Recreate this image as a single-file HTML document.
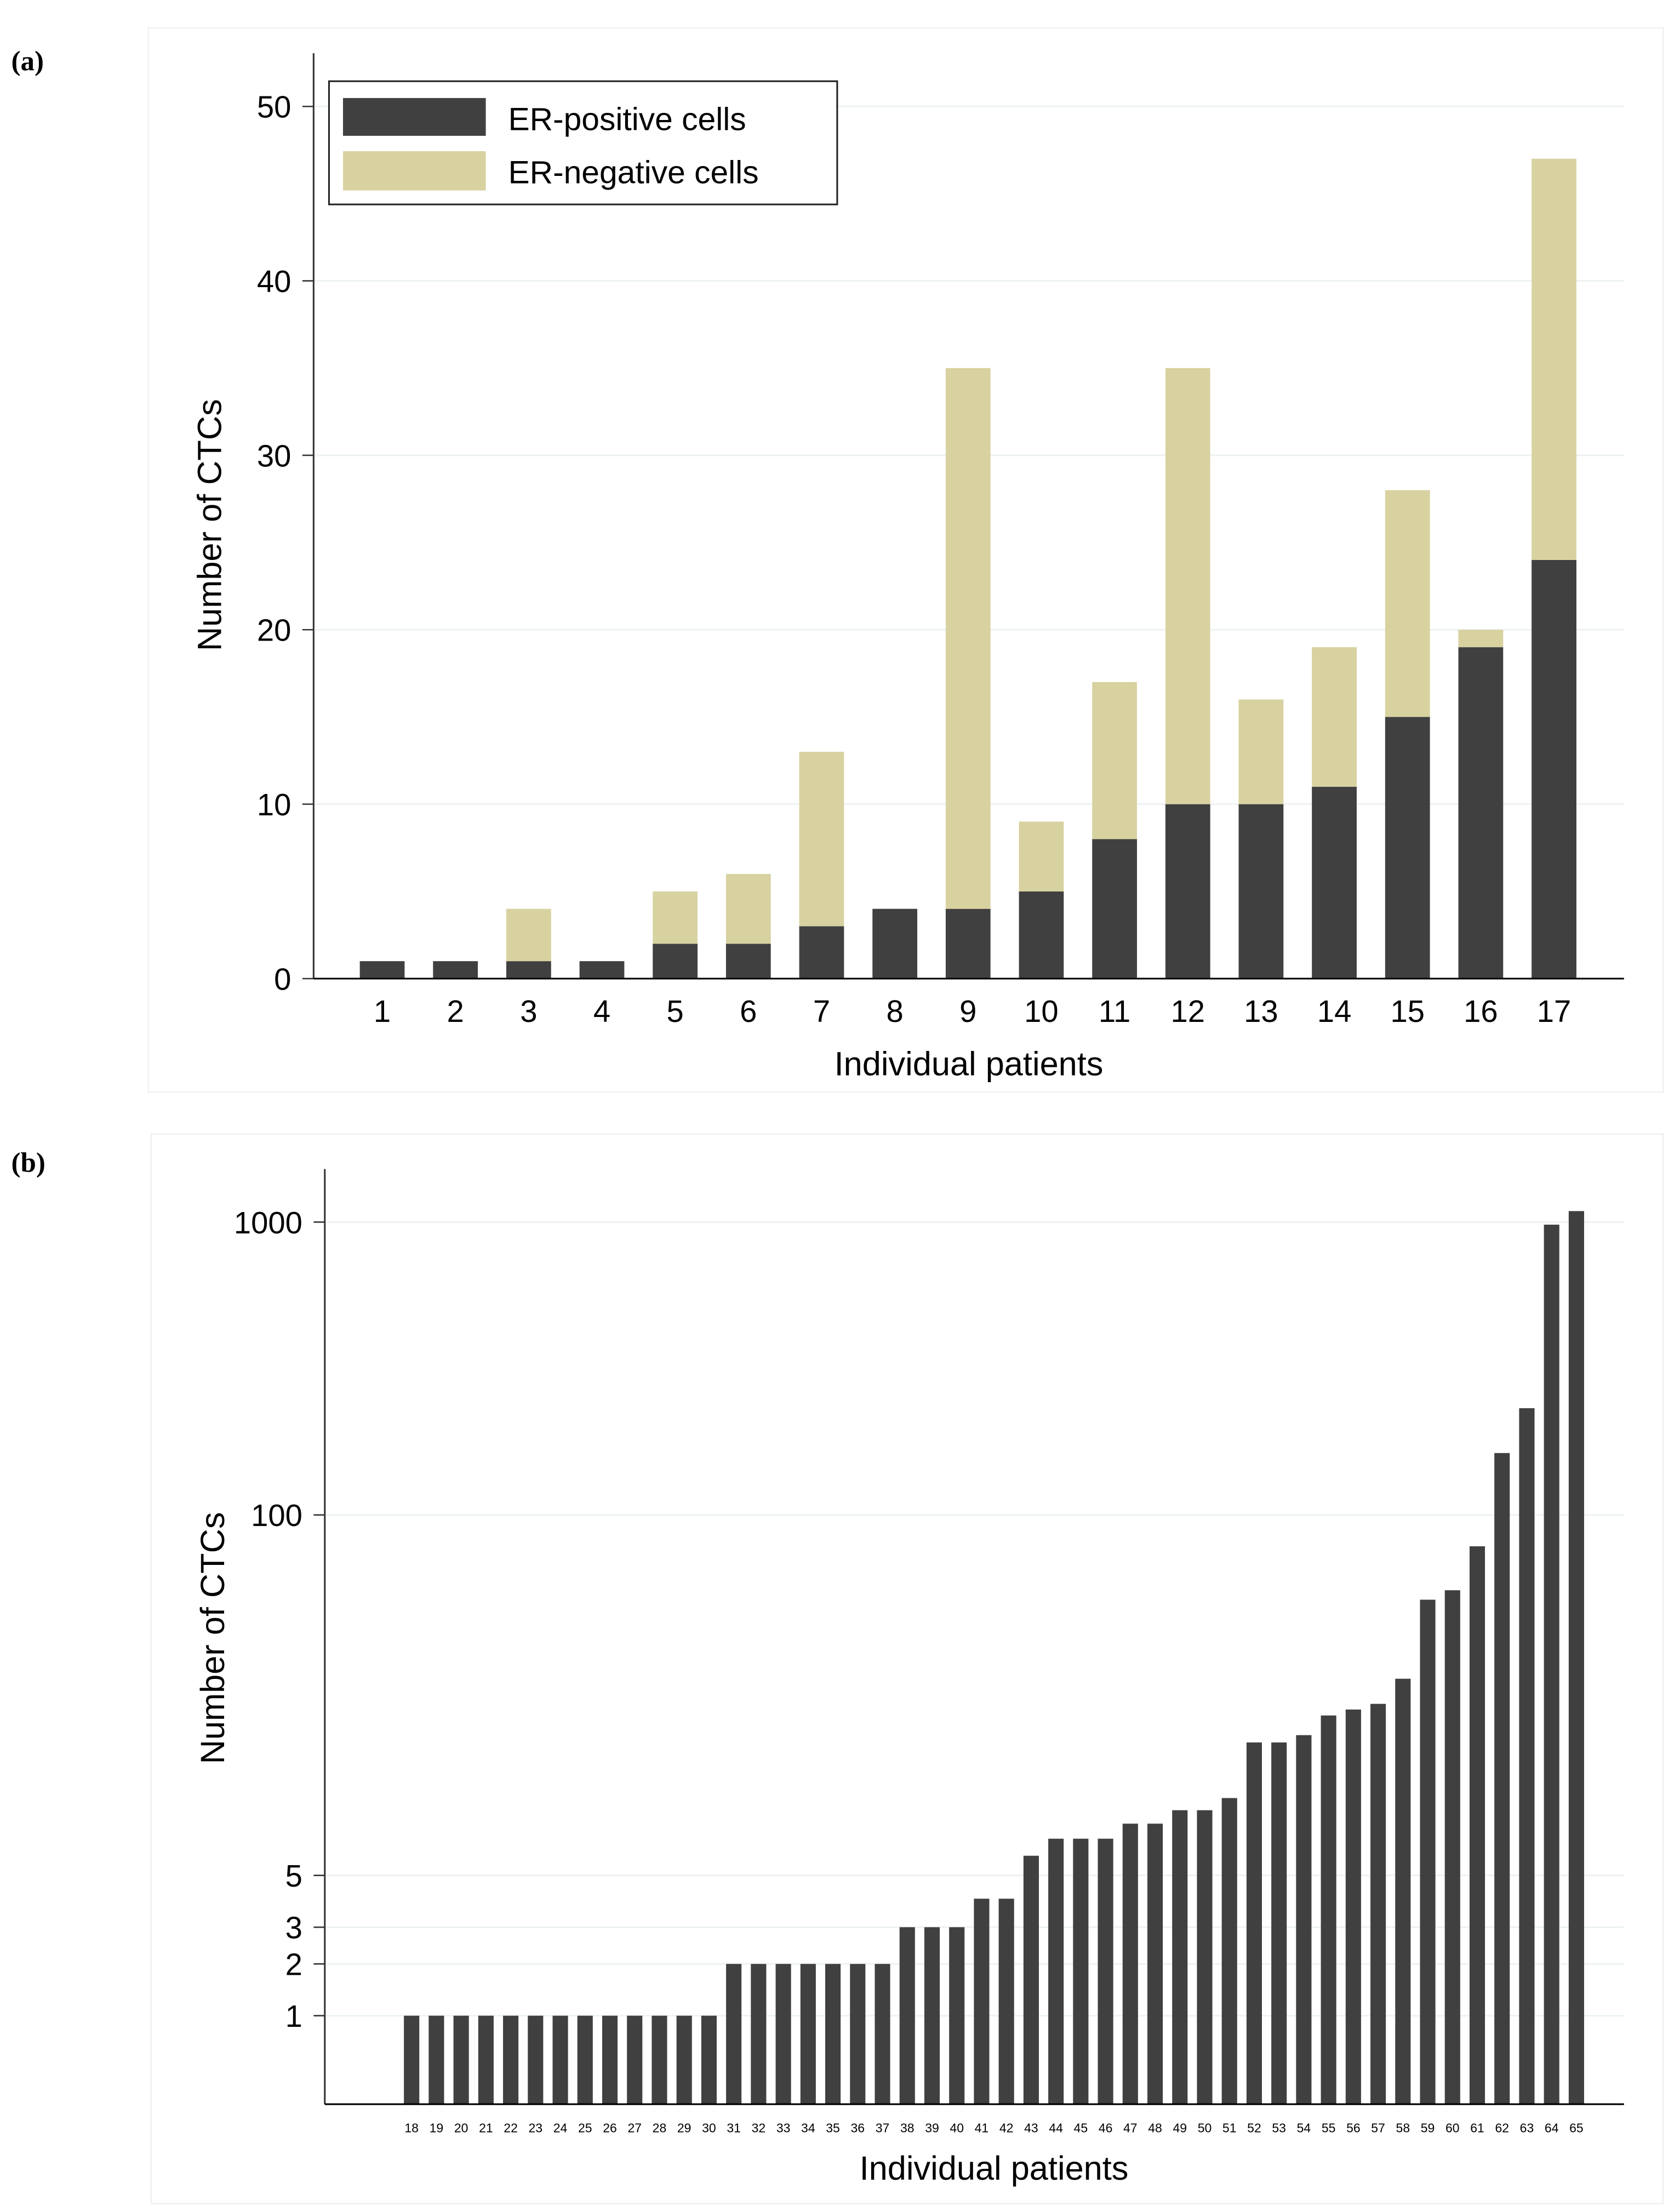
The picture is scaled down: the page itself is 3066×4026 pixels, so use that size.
<!DOCTYPE html>
<html><head><meta charset="utf-8"><style>
html,body{margin:0;padding:0;background:#fff;}
svg{display:block;}
text{font-family:"Liberation Sans",sans-serif;fill:#000;}
</style></head><body>
<svg id="fig" width="3066" height="4026" viewBox="0 0 1200 1575.7" xmlns="http://www.w3.org/2000/svg">
<rect x="106" y="20" width="1082" height="760" fill="none" stroke="#f0f0f0" stroke-width="1"/>
<rect x="108" y="810" width="1080" height="764" fill="none" stroke="#f0f0f0" stroke-width="1"/>
<text x="8" y="50" font-family="Liberation Serif" font-weight="bold" font-size="20" style="font-family:'Liberation Serif',serif">(a)</text>
<text x="8" y="837" font-weight="bold" font-size="20" style="font-family:'Liberation Serif',serif">(b)</text>
<g id="ga"></g>
<g id="gb"></g>
</svg>
<script>
const patientsA = [1,2,3,4,5,6,7,8,9,10,11,12,13,14,15,16,17];
const erPositive = [1,1,1,1,2,2,3,4,4,5,8,10,10,11,15,19,24];
const erNegative = [0,0,3,0,3,4,10,0,31,4,9,25,6,8,13,1,23];
const ticksA = [0,10,20,30,40,50];

const patientsB = [18,19,20,21,22,23,24,25,26,27,28,29,30,31,32,33,34,35,36,37,38,39,40,41,42,43,44,45,46,47,48,49,50,51,52,53,54,55,56,57,58,59,60,61,62,63,64,65];
const ctcCounts = [1,1,1,1,1,1,1,1,1,1,1,1,1,2,2,2,2,2,2,2,3,3,3,4,4,6,7,7,7,8,8,9,9,10,16,16,17,20,21,22,27,51,55,78,163,232,980,1090];
const ticksB = [1,2,3,5,100,1000];

const NS='http://www.w3.org/2000/svg';
function mk(parent,tag,attrs,txt){const e=document.createElementNS(NS,tag);for(const k in attrs)e.setAttribute(k,attrs[k]);if(txt!==undefined)e.textContent=txt;parent.appendChild(e);return e;}

// Panel A
const ga=document.getElementById('ga');
const aX0=224,aX1=1160,aY0=699,aYtop=76;
const yA=v=>aY0-(v/50)*(aY0-aYtop);
const xA=i=>273+i*(1110-273)/16;
ticksA.forEach(t=>{
  if(t>0){const g=mk(ga,'line',{x1:aX0,x2:aX1,y1:yA(t),y2:yA(t),stroke:'#eef2f2','stroke-width':1.2});
  
  }
  const tk=mk(ga,'line',{x1:216,x2:aX0,y1:yA(t),y2:yA(t),stroke:'#333','stroke-width':1});
  
  
  const tl=mk(ga,'text',{x:208,y:yA(t)+8,'text-anchor':'end','font-size':22},String(t));
  
  
});
patientsA.forEach((p,i)=>{
  const cx=xA(i),w=32;
  const r1=mk(ga,'rect',{x:cx-w/2,y:yA(erPositive[i]),width:w,height:aY0-yA(erPositive[i]),fill:'#404040'});
  
  
  if(erNegative[i]>0){
    const top=erPositive[i]+erNegative[i];
    const r2=mk(ga,'rect',{x:cx-w/2,y:yA(top),width:w,height:yA(erPositive[i])-yA(top),fill:'#d8d2a0'});
    
    
  }
  const xl=mk(ga,'text',{x:cx,y:730,'text-anchor':'middle','font-size':22},String(p));
  
  
});
let ax=mk(ga,'line',{x1:aX0,x2:aX0,y1:38,y2:aY0,stroke:'#333','stroke-width':1.2});


ax=mk(ga,'line',{x1:aX0,x2:aX1,y1:aY0,y2:aY0,stroke:'#000','stroke-width':1.2});


let t=mk(ga,'text',{x:692,y:768,'text-anchor':'middle','font-size':24},'Individual patients');


t=mk(ga,'text',{x:0,y:0,'text-anchor':'middle','font-size':24,transform:'translate(158,375) rotate(-90)'},'Number of CTCs');


const lg=mk(ga,'g',{});


mk(lg,'rect',{x:235,y:58,width:363,height:88,fill:'#fff',stroke:'#222','stroke-width':1.2});
let s=mk(lg,'rect',{x:245,y:70,width:102,height:27,fill:'#404040'});


s=mk(lg,'rect',{x:245,y:108,width:102,height:28,fill:'#d8d2a0'});


s=mk(lg,'text',{x:363,y:93,'font-size':23},'ER-positive cells');


s=mk(lg,'text',{x:363,y:131,'font-size':23},'ER-negative cells');



// Panel B (log10(v+1) scale)
const gb=document.getElementById('gb');
const bX0=232,bX1=1160,bY0=1503,dec=210;
const yB=v=>bY0-Math.log10(v+1)*dec;
const xB=i=>294+i*(1126-294)/47;
ticksB.forEach(tv=>{
  const g=mk(gb,'line',{x1:bX0,x2:bX1,y1:yB(tv),y2:yB(tv),stroke:'#eef2f2','stroke-width':1.2});
  
  
  const tk=mk(gb,'line',{x1:224,x2:bX0,y1:yB(tv),y2:yB(tv),stroke:'#333','stroke-width':1});
  
  
  const tl=mk(gb,'text',{x:243-27,y:yB(tv)+8,'text-anchor':'end','font-size':22},String(tv));
  
  
});
patientsB.forEach((p,i)=>{
  const cx=xB(i),w=11;
  const r=mk(gb,'rect',{x:cx-w/2,y:yB(ctcCounts[i]),width:w,height:bY0-yB(ctcCounts[i]),fill:'#404040'});
  
  
  const xl=mk(gb,'text',{x:cx,y:1523,'text-anchor':'middle','font-size':9},String(p));
  
  
});
ax=mk(gb,'line',{x1:bX0,x2:bX0,y1:835,y2:bY0,stroke:'#333','stroke-width':1.2});


ax=mk(gb,'line',{x1:bX0,x2:bX1,y1:bY0,y2:bY0,stroke:'#000','stroke-width':1.2});


t=mk(gb,'text',{x:710,y:1557,'text-anchor':'middle','font-size':24},'Individual patients');


t=mk(gb,'text',{x:0,y:0,'text-anchor':'middle','font-size':24,transform:'translate(160,1170) rotate(-90)'},'Number of CTCs');


</script>
</body></html>
